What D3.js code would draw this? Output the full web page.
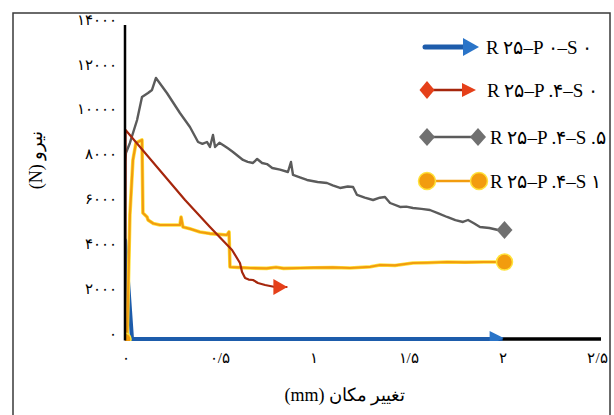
<!DOCTYPE html>
<html>
<head>
<meta charset="utf-8">
<script src="https://cdn.jsdelivr.net/npm/d3@7/dist/d3.min.js"></script>
<style>
  html, body { margin: 0; padding: 0; background: #fff; }
  svg { display: block; }
</style>
</head>
<body>
<svg id="chart" width="614" height="415"></svg>
<script>
// Load–displacement curves of the four specimens (x: mm, y: N)
const seriesNames = ["R ۲۵–P ۰–S ۰", "R ۲۵–P .۴–S ۰", "R ۲۵–P .۴–S .۵", "R ۲۵–P .۴–S ۱"];

const blueData = [[0, 0], [0.001, 4400], [0.037, 0], [2.0, 0]];

const redData = [
  [0, 0], [0.003, 9320], [0.318, 6198], [0.45, 4994], [0.567, 3969], [0.609, 3389],
  [0.62, 2988], [0.636, 2720], [0.655, 2650], [0.678, 2631], [0.704, 2497],
  [0.742, 2408], [0.794, 2319], [0.86, 2319]
];

const grayData = [
  [0, 0], [0.002, 7900], [0.005, 8294], [0.026, 8740], [0.064, 9765], [0.09, 10791],
  [0.122, 10969], [0.143, 11103], [0.164, 11638], [0.222, 10969], [0.291, 10077],
  [0.344, 9453], [0.387, 8784], [0.41, 8700], [0.434, 8784], [0.45, 8561], [0.466, 9096],
  [0.477, 8561], [0.5, 8750], [0.519, 8650], [0.545, 8500], [0.572, 8338], [0.6, 8150],
  [0.625, 7982], [0.65, 7900], [0.678, 7848], [0.7, 8026], [0.726, 7848], [0.752, 7800],
  [0.78, 7625], [0.821, 7550], [0.863, 7447], [0.879, 7892], [0.89, 7313], [0.93, 7200],
  [0.964, 7090], [1.02, 7000], [1.07, 6956], [1.1, 6850], [1.139, 6733], [1.18, 6800],
  [1.208, 6778], [1.229, 6421], [1.27, 6300], [1.314, 6198], [1.35, 6300], [1.377, 6332],
  [1.404, 6064], [1.457, 5886], [1.49, 5900], [1.525, 5841], [1.57, 5800], [1.615, 5752],
  [1.66, 5600], [1.706, 5440], [1.75, 5300], [1.79, 5217], [1.817, 5306], [1.85, 5150],
  [1.88, 4994], [1.93, 4950], [1.976, 4860], [2.01, 4860]
];

const yellowData = [
  [0, 0], [0.011, 0], [0.016, 1739], [0.026, 5529], [0.042, 7982], [0.058, 8740],
  [0.09, 8874], [0.095, 5618], [0.117, 5440], [0.122, 5306], [0.15, 5150], [0.185, 5083],
  [0.291, 5083], [0.297, 5440], [0.307, 4994], [0.35, 4900], [0.397, 4771], [0.45, 4700],
  [0.54, 4637], [0.551, 4771], [0.556, 3210], [0.6, 3190], [0.662, 3166], [0.75, 3150],
  [0.8, 3200], [0.84, 3150], [0.927, 3166], [1.0, 3180], [1.1, 3190], [1.192, 3166],
  [1.3, 3220], [1.351, 3300], [1.43, 3280], [1.525, 3389], [1.6, 3400], [1.706, 3433],
  [1.8, 3420], [1.9, 3433], [1.97, 3433], [2.01, 3433]
];

const xTicks = [0, 0.5, 1, 1.5, 2, 2.5];
const xTickLabels = ["۰", "۰/۵", "۱", "۱/۵", "۲", "۲/۵"];
const yTicks = [0, 2000, 4000, 6000, 8000, 10000, 12000, 14000];
const yTickLabels = ["۰", "۲۰۰۰", "۴۰۰۰", "۶۰۰۰", "۸۰۰۰", "۱۰۰۰۰", "۱۲۰۰۰", "۱۴۰۰۰"];
const xTitle = "تغییر مکان (mm)";
const yTitle = "نیرو (N)";

const svg = d3.select("#chart");
const x = d3.scaleLinear().domain([0, 2.5]).range([125, 597]);
const y = d3.scaleLinear().domain([0, 14000]).range([339, 25]);

const colors = {
  blue: "#1d5cab", blueLight: "#2a74c8",
  red: "#a5260c", redMark: "#e5401a",
  gray: "#5b5b5b", grayMark: "#707070",
  orange: "#f29c0e", yellow: "#ffe23a"
};

// outer frame
svg.append("rect").attr("x", 13).attr("y", 13).attr("width", 597).attr("height", 420)
  .attr("fill", "#fff").attr("stroke", "#3a3a3a").attr("stroke-width", 1.5);

svg.append("defs").append("clipPath").attr("id", "plot")
  .append("rect").attr("x", x(0)).attr("y", 0).attr("width", 500).attr("height", y(0) + 2);

const serif = "'Liberation Serif', 'DejaVu Serif', serif";

// x-axis baseline
svg.append("line").attr("x1", x(0)).attr("x2", 601).attr("y1", y(0)).attr("y2", y(0))
  .attr("stroke", "#000").attr("stroke-width", 3.5);

// axes tick labels (no tick marks)
const xAxis = d3.axisBottom(x).tickValues(xTicks).tickSize(0).tickPadding(0)
  .tickFormat((d, i) => xTickLabels[i]);
const gx = svg.append("g").attr("transform", `translate(0,${y(0) + 13})`).call(xAxis);
gx.select(".domain").remove();
gx.selectAll("text").attr("font-family", serif).attr("font-size", 15).attr("fill", "#000");

const yAxis = d3.axisLeft(y).tickValues(yTicks).tickSize(0).tickPadding(0)
  .tickFormat((d, i) => yTickLabels[i]);
const gy = svg.append("g").attr("transform", `translate(117,0)`).call(yAxis);
gy.select(".domain").remove();
gy.selectAll("text").attr("font-family", serif).attr("font-size", 15).attr("fill", "#000")
  .attr("dy", "-0.05em");

const line = d3.line().x(d => x(d[0])).y(d => y(d[1]));
const plot = svg.append("g").attr("clip-path", "url(#plot)");

// gray curve
plot.append("path").datum(grayData).attr("d", line).attr("fill", "none")
  .attr("stroke", colors.gray).attr("stroke-width", 2.4).attr("stroke-linejoin", "round");

// blue curve
plot.append("path").datum(blueData).attr("d", line).attr("fill", "none")
  .attr("stroke", colors.blue).attr("stroke-width", 4).attr("stroke-linejoin", "round");

// yellow curve: thin yellow halo under an orange core
plot.append("path").datum(yellowData).attr("d", line).attr("fill", "none")
  .attr("stroke", colors.yellow).attr("stroke-width", 3.6).attr("stroke-linejoin", "round");
plot.append("path").datum(yellowData).attr("d", line).attr("fill", "none")
  .attr("stroke", colors.orange).attr("stroke-width", 2.2).attr("stroke-linejoin", "round");

// red curve
plot.append("path").datum(redData).attr("d", line).attr("fill", "none")
  .attr("stroke", colors.red).attr("stroke-width", 2.2).attr("stroke-linejoin", "round");

// marker helpers
function diamond(g, cx, cy, hw, hh, fill) {
  g.append("path").attr("d", `M${cx - hw},${cy}L${cx},${cy - hh}L${cx + hw},${cy}L${cx},${cy + hh}Z`)
    .attr("fill", fill);
}
function arrowHead(g, tx, ty, len, hh, fill) {
  g.append("path").attr("d", `M${tx},${ty}L${tx - len},${ty - hh}L${tx - len},${ty + hh}Z`)
    .attr("fill", fill);
}
function dot(g, cx, cy, r) {
  g.append("circle").attr("cx", cx).attr("cy", cy).attr("r", r)
    .attr("fill", colors.orange).attr("stroke", colors.yellow).attr("stroke-width", 1.5);
}

// start / end markers on the curves
const mk = svg.append("g").attr("clip-path", "url(#plot)");
dot(mk, x(yellowData[0][0]), y(yellowData[0][1]), 6);
const yEnd = yellowData[yellowData.length - 1];
dot(mk, x(yEnd[0]), y(yEnd[1]), 8);
const gEnd = grayData[grayData.length - 1];
diamond(mk, x(gEnd[0]), y(gEnd[1]), 8, 9, colors.grayMark);
const rEnd = redData[redData.length - 1];
arrowHead(mk, x(rEnd[0]), y(rEnd[1]), 14, 8, colors.redMark);
const bEnd = blueData[blueData.length - 1];
arrowHead(mk, x(bEnd[0]) + 1, y(bEnd[1]) - 1, 14, 7, colors.blueLight);

// y-axis line on top of the curves
svg.append("line").attr("x1", x(0)).attr("x2", x(0)).attr("y1", y(14000)).attr("y2", y(0) + 1.5)
  .attr("stroke", "#000").attr("stroke-width", 2.5);

// axis titles
svg.append("text").attr("x", 345).attr("y", 401).attr("text-anchor", "middle")
  .attr("direction", "rtl").attr("font-family", serif).attr("font-size", 18).text(xTitle);
svg.append("text").attr("transform", "translate(42,160) rotate(-90)").attr("text-anchor", "middle")
  .attr("direction", "rtl").attr("font-family", serif).attr("font-size", 18).text(yTitle);

// legend
const lg = svg.append("g");
const legendRows = [47, 90, 137, 181];
// blue arrow
lg.append("line").attr("x1", 425).attr("x2", 464).attr("y1", legendRows[0]).attr("y2", legendRows[0])
  .attr("stroke", colors.blue).attr("stroke-width", 5).attr("stroke-linecap", "round");
arrowHead(lg, 479, legendRows[0], 16, 9, colors.blueLight);
// red: diamond to arrow
lg.append("line").attr("x1", 427).attr("x2", 466).attr("y1", legendRows[1]).attr("y2", legendRows[1])
  .attr("stroke", colors.red).attr("stroke-width", 2.5);
diamond(lg, 427, legendRows[1], 7.5, 9, colors.redMark);
arrowHead(lg, 476, legendRows[1], 14, 7, colors.redMark);
// gray: diamond to diamond
lg.append("line").attr("x1", 427).attr("x2", 478).attr("y1", legendRows[2]).attr("y2", legendRows[2])
  .attr("stroke", colors.gray).attr("stroke-width", 2.5);
diamond(lg, 427, legendRows[2], 8, 9, colors.grayMark);
diamond(lg, 478, legendRows[2], 8, 9, colors.grayMark);
// yellow: circle to circle
lg.append("line").attr("x1", 427).attr("x2", 479).attr("y1", legendRows[3]).attr("y2", legendRows[3])
  .attr("stroke", colors.orange).attr("stroke-width", 2.5);
dot(lg, 427, legendRows[3], 8.5);
dot(lg, 479, legendRows[3], 8.5);

const legendX = [486, 487, 490, 490];
seriesNames.forEach((name, i) => {
  lg.append("text").attr("x", legendX[i]).attr("y", legendRows[i]).attr("dy", "0.35em")
    .attr("direction", "ltr").attr("font-family", serif).attr("font-size", 19).text(name);
});
</script>
</body>
</html>
